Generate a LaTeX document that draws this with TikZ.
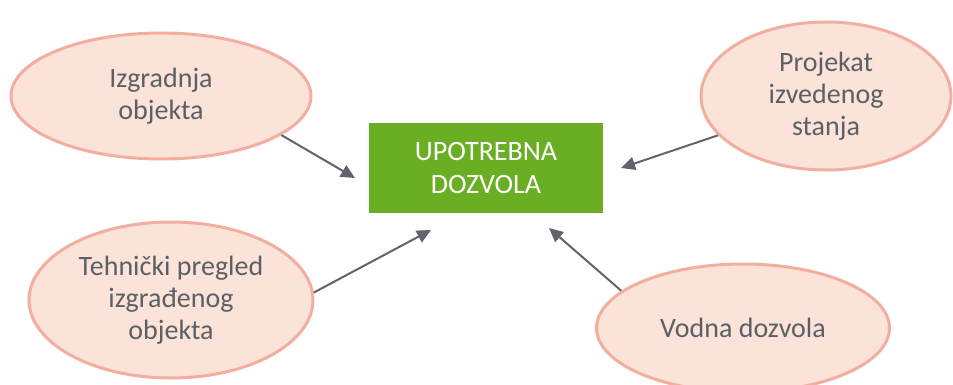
\documentclass[tikz,border=0pt]{standalone}
\usepackage{fontspec}
\setmainfont{Carlito}
\usetikzlibrary{shapes.geometric,arrows.meta}
\definecolor{elfill}{HTML}{FBE3D9}
\definecolor{eldraw}{HTML}{F2AE9E}
\definecolor{boxgreen}{HTML}{6AAF23}
\definecolor{txtgray}{HTML}{5B6065}
\definecolor{arrgray}{HTML}{60656B}
\tikzset{
  oval/.style={ellipse, fill=elfill, draw=eldraw, line width=3pt, inner sep=0pt,
    text=txtgray, align=center, font=\fontsize{28}{32}\selectfont},
  mainbox/.style={rectangle, fill=boxgreen, inner sep=0pt, text=white, align=center,
    font=\fontsize{28}{33}\selectfont},
  conn/.style={draw=arrgray, line width=2pt, -{Triangle[length=14pt,width=13pt]}}
}
\begin{document}
\begin{tikzpicture}[x=1pt,y=-1pt]
\useasboundingbox (0,0) rectangle (953,385);
\begin{scope}
\clip (0,0) rectangle (953,385);
\node[oval, minimum width=300, minimum height=126] (e1) at (161,96) {Izgradnja\\objekta};
\node[oval, minimum width=250, minimum height=148] (e2) at (826,96) {Projekat\\izvedenog\\stanja};
\node[oval, minimum width=284, minimum height=156] (e3) at (171,300) {Tehnički pregled\\izgrađenog\\objekta};
\node[oval, minimum width=293, minimum height=128] (e4) at (743,328) {Vodna dozvola};
\end{scope}
\node[mainbox, minimum width=234, minimum height=90] (box) at (486,168) {UPOTREBNA\\DOZVOLA};
\coordinate (t1) at (355,178);
\coordinate (t2) at (621,168);
\coordinate (t3) at (431,230);
\coordinate (t4) at (549,228);
\draw[conn] (e1.-18) -- (t1);
\draw[conn] (e2.-160) -- (t2);
\draw[conn] (e3.3) -- (t3);
\draw[conn] (e4.163) -- (t4);
\end{tikzpicture}
\end{document}
